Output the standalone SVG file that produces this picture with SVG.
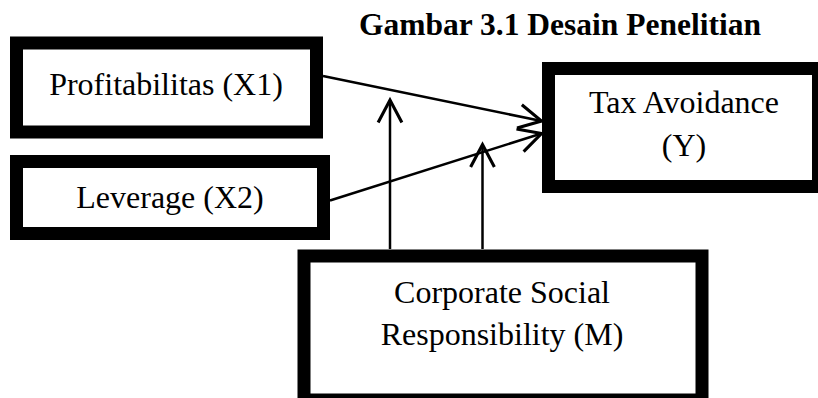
<svg xmlns="http://www.w3.org/2000/svg" width="818" height="398" viewBox="0 0 818 398">
  <style>
    .box { fill: #ffffff; stroke: #000000; stroke-width: 13; }
    .label { font-family: "Liberation Serif", "Times New Roman", serif; font-size: 32px; fill: #000000; text-anchor: middle; }
    .title { font-family: "Liberation Serif", "Times New Roman", serif; font-size: 31.5px; font-weight: bold; fill: #000000; text-anchor: middle; }
    .link { fill: none; stroke: #000000; stroke-width: 2.5; }
  </style>
  <defs>
    <marker id="open-arrow" markerUnits="userSpaceOnUse" markerWidth="30" markerHeight="30" viewBox="-20 -12 22 24" refX="0" refY="0" orient="auto">
      <path d="M-18,-9.5 L0,0 L-18,9.5" fill="none" stroke="#000000" stroke-width="2.5"/>
    </marker>
  </defs>

  <rect width="818" height="398" fill="#ffffff"/>

  <text class="title" x="560" y="35">Gambar 3.1 Desain Penelitian</text>

  <g id="profitabilitas">
    <rect class="box" x="16.5" y="43" width="300" height="89"/>
    <text class="label" x="166" y="95">Profitabilitas (X1)</text>
  </g>

  <g id="leverage">
    <rect class="box" x="16.5" y="161.5" width="307" height="72"/>
    <text class="label" x="170" y="208">Leverage (X2)</text>
  </g>

  <g id="tax-avoidance">
    <rect class="box" x="548.5" y="68.5" width="270" height="118"/>
    <text class="label" x="684" y="113">Tax Avoidance</text>
    <text class="label" x="684" y="156">(Y)</text>
  </g>

  <g id="csr">
    <rect class="box" x="304" y="256" width="398" height="144"/>
    <text class="label" x="502" y="303">Corporate Social</text>
    <text class="label" x="502" y="345">Responsibility (M)</text>
  </g>

  <g id="connectors">
    <line class="link" x1="323" y1="76" x2="541.5" y2="121" marker-end="url(#open-arrow)"/>
    <line class="link" x1="330" y1="200.5" x2="541.5" y2="133.5" marker-end="url(#open-arrow)"/>
    <line class="link" x1="390" y1="249" x2="390" y2="100" marker-end="url(#open-arrow)"/>
    <line class="link" x1="482.5" y1="249" x2="482.5" y2="144.5" marker-end="url(#open-arrow)"/>
  </g>
</svg>
